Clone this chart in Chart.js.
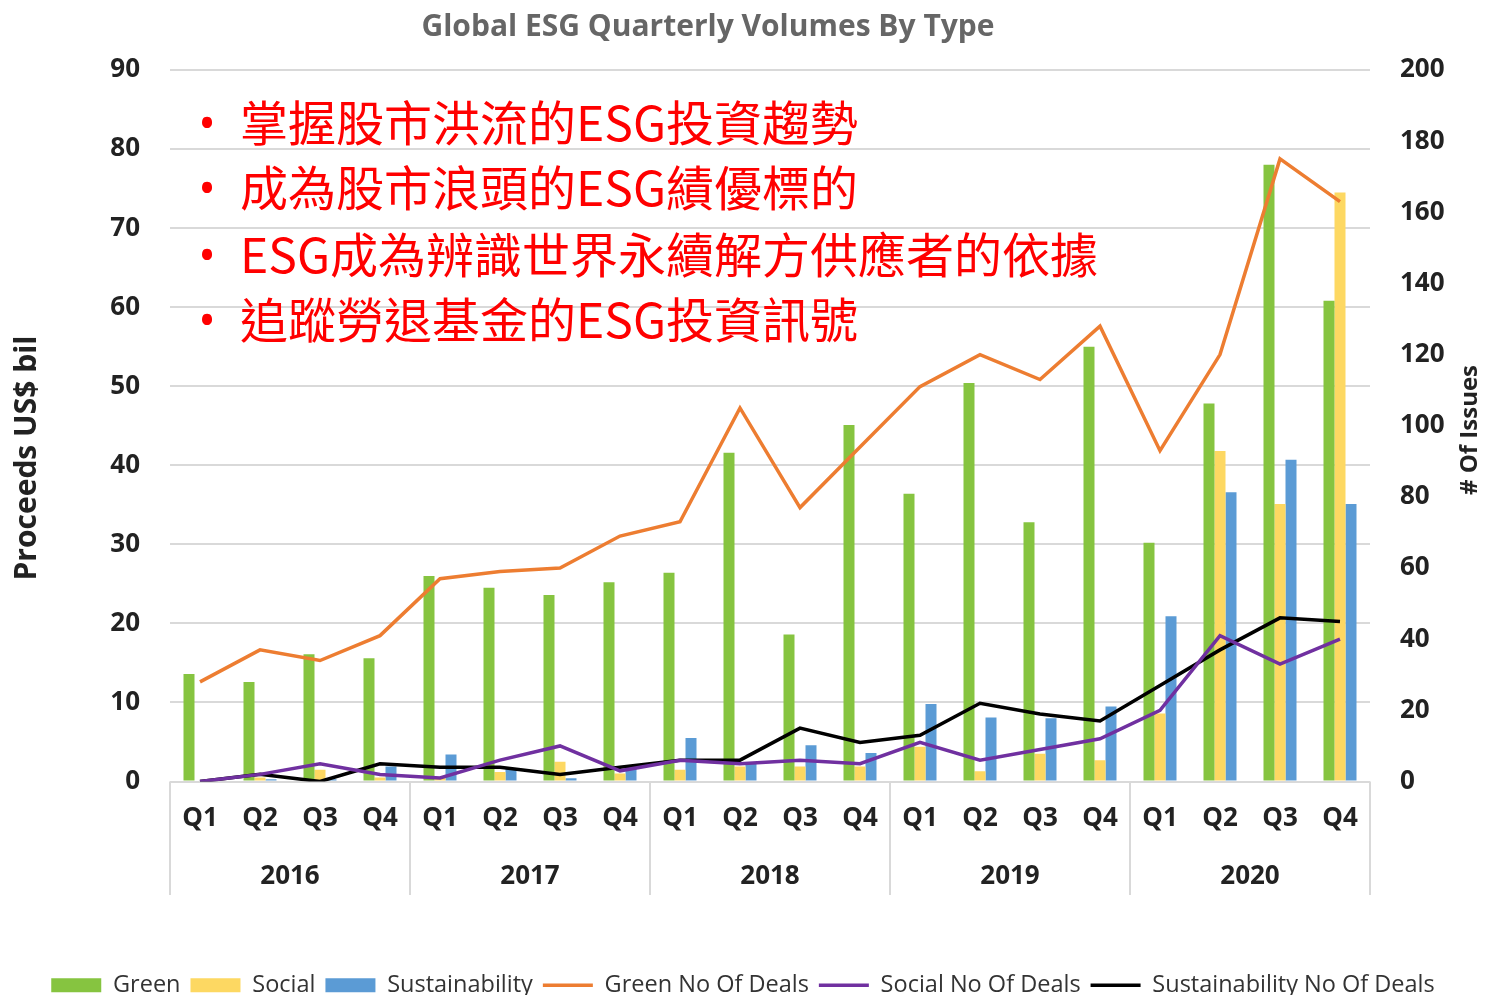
<!DOCTYPE html>
<html>
<head>
<meta charset="utf-8">
<script src="https://cdn.jsdelivr.net/npm/chart.js@4.4.0/dist/chart.umd.min.js"></script>
<style>
html, body { margin: 0; padding: 0; background: #fff; }
#wrap { position: relative; width: 1486px; height: 995px; }
.note { position: absolute; left: 240px; font-family: "Noto Sans CJK TC", "Noto Sans CJK SC", sans-serif; font-size: 48px; line-height: 48px; color: #ff0000; white-space: nowrap; }
.dot { position: absolute; left: 187px; width: 40px; text-align: center; font-family: "Open Sans", sans-serif; font-size: 48px; line-height: 48px; color: #ff0000; }
</style>
</head>
<body>
<div id="wrap">
  <canvas id="myChart" width="1486" height="995"></canvas>
  <div class="dot" style="top:98px">•</div>
  <div class="note" style="top:96px">掌握股市洪流的ESG投資趨勢</div>
  <div class="dot" style="top:163px">•</div>
  <div class="note" style="top:161px">成為股市浪頭的ESG績優標的</div>
  <div class="dot" style="top:230px">•</div>
  <div class="note" style="top:228px">ESG成為辨識世界永續解方供應者的依據</div>
  <div class="dot" style="top:295px">•</div>
  <div class="note" style="top:293px">追蹤勞退基金的ESG投資訊號</div>
</div>
<script>
var quarters = ['Q1','Q2','Q3','Q4','Q1','Q2','Q3','Q4','Q1','Q2','Q3','Q4','Q1','Q2','Q3','Q4','Q1','Q2','Q3','Q4'];
var years = ['2016','2017','2018','2019','2020'];
// volumes (US$ bil)
var green = [13.6, 12.6, 16.1, 15.6, 26.0, 24.5, 23.6, 25.2, 26.4, 41.6, 18.6, 45.1, 36.4, 50.4, 32.8, 55.0, 30.2, 47.8, 78.0, 60.8];
var social = [0, 0.5, 1.5, 0.5, 0.5, 1.2, 2.5, 1.0, 1.5, 1.9, 1.9, 1.9, 4.4, 1.3, 3.5, 2.7, 8.6, 41.8, 35.1, 74.5];
var sustainability = [0, 0.3, 0.3, 1.9, 3.4, 1.7, 0.4, 1.9, 5.5, 2.3, 4.6, 3.6, 9.8, 8.1, 8.0, 9.5, 20.9, 36.6, 40.7, 35.1];
// number of deals
var greenDeals = [28, 37, 34, 41, 57, 59, 60, 69, 73, 105, 77, 94, 111, 120, 113, 128, 93, 120, 175, 163];
var socialDeals = [0, 2, 5, 2, 1, 6, 10, 3, 6, 5, 6, 5, 11, 6, 9, 12, 20, 41, 33, 40];
var sustDeals = [0, 2, 0, 5, 4, 4, 2, 4, 6, 6, 15, 11, 13, 22, 19, 17, 27, 37, 46, 45];

var tickFont = { family: 'Open Sans', size: 26, weight: 'bold' };

var extras = {
    id: 'extras',
    afterDraw: function(chart){
        var ctx = chart.ctx;
        var a = chart.chartArea;
        var x = chart.scales.x;
        ctx.save();
        // separators between years
        ctx.strokeStyle = '#d9d9d9';
        ctx.lineWidth = 2;
        for(var i = 0; i <= years.length; i++){
            var px;
            if(i == 0) px = a.left;
            else if(i == years.length) px = a.right;
            else px = (x.getPixelForValue(i * 4 - 1) + x.getPixelForValue(i * 4)) / 2;
            ctx.beginPath();
            ctx.moveTo(px, a.bottom);
            ctx.lineTo(px, 895);
            ctx.stroke();
        }
        // chart title
        ctx.fillStyle = '#666';
        ctx.textAlign = 'center';
        ctx.textBaseline = 'middle';
        ctx.font = 'bold 30px "Open Sans"';
        ctx.fillText('Global ESG Quarterly Volumes By Type', 708, 27);
        // axis titles
        ctx.fillStyle = '#222';
        ctx.font = 'bold 30px "Open Sans"';
        ctx.translate(27, 458);
        ctx.rotate(-Math.PI / 2);
        ctx.fillText('Proceeds US$ bil', 0, 0);
        ctx.restore();
        ctx.save();
        ctx.fillStyle = '#222';
        ctx.textAlign = 'center';
        ctx.textBaseline = 'middle';
        ctx.font = 'bold 24px "Open Sans"';
        ctx.translate(1470, 430);
        ctx.rotate(-Math.PI / 2);
        ctx.fillText('# Of Issues', 0, 0);
        ctx.restore();
    }
};

var ctx = document.getElementById('myChart').getContext('2d');
var myChart = new Chart(ctx, {
    type: 'bar',
    data: {
        labels: quarters,
        datasets: [
            { label: 'Green', data: green, backgroundColor: '#86c440', borderWidth: 0, order: 1, yAxisID: 'y', categoryPercentage: 0.55, barPercentage: 1 },
            { label: 'Social', data: social, backgroundColor: '#fdd862', borderWidth: 0, order: 1, yAxisID: 'y', categoryPercentage: 0.55, barPercentage: 1 },
            { label: 'Sustainability', data: sustainability, backgroundColor: '#5b9bd5', borderWidth: 0, order: 1, yAxisID: 'y', categoryPercentage: 0.55, barPercentage: 1 },
            { type: 'line', label: 'Green No Of Deals', data: greenDeals, borderColor: '#ed7d31', backgroundColor: '#ed7d31', borderWidth: 3.5, pointRadius: 0, tension: 0, order: 0, yAxisID: 'y1' },
            { type: 'line', label: 'Social No Of Deals', data: socialDeals, borderColor: '#7030a0', backgroundColor: '#7030a0', borderWidth: 3.5, pointRadius: 0, tension: 0, order: 0, yAxisID: 'y1' },
            { type: 'line', label: 'Sustainability No Of Deals', data: sustDeals, borderColor: '#000000', backgroundColor: '#000000', borderWidth: 3.5, pointRadius: 0, tension: 0, order: 0, yAxisID: 'y1' }
        ]
    },
    options: {
        responsive: false,
        animation: false,
        layout: { padding: { left: 0, right: 0, top: 70, bottom: -12 } },
        plugins: {
            title: { display: false },
            legend: {
                position: 'bottom',
                labels: {
                    color: '#333',
                    font: { family: 'Open Sans', size: 23.5 },
                    usePointStyle: true,
                    pointStyleWidth: 50,
                    boxHeight: 14,
                    padding: 10,
                    sort: function(a, b){ return a.datasetIndex - b.datasetIndex; },
                    generateLabels: function(chart){
                        var items = Chart.defaults.plugins.legend.labels.generateLabels(chart);
                        items.forEach(function(it){
                            var ds = chart.data.datasets[it.datasetIndex];
                            it.pointStyle = ds.type === 'line' ? 'line' : 'rect';
                        });
                        return items;
                    }
                }
            },
            tooltip: { enabled: false }
        },
        scales: {
            x: {
                grid: { display: false },
                border: { display: false },
                ticks: { color: '#222', font: tickFont, padding: 13, maxRotation: 0, autoSkip: false },
                afterFit: function(s){ s.height = 60; }
            },
            x2: {
                type: 'category',
                labels: years,
                position: 'bottom',
                offset: true,
                grid: { display: false },
                border: { display: false },
                ticks: { color: '#222', font: tickFont, padding: 11, maxRotation: 0 },
                afterFit: function(s){ s.height = 122; }
            },
            y: {
                position: 'left',
                min: 0,
                max: 90,
                ticks: { stepSize: 10, padding: 30, color: '#222', font: tickFont },
                grid: { color: '#d9d9d9', lineWidth: 2, drawTicks: false },
                border: { display: false },
                afterFit: function(s){ s.width = 170; }
            },
            y1: {
                position: 'right',
                min: 0,
                max: 200,
                ticks: { stepSize: 20, padding: 30, color: '#222', font: tickFont },
                grid: { display: false, drawTicks: false },
                border: { display: false },
                afterFit: function(s){ s.width = 116; }
            }
        }
    },
    plugins: [extras]
});
</script>
</body>
</html>
